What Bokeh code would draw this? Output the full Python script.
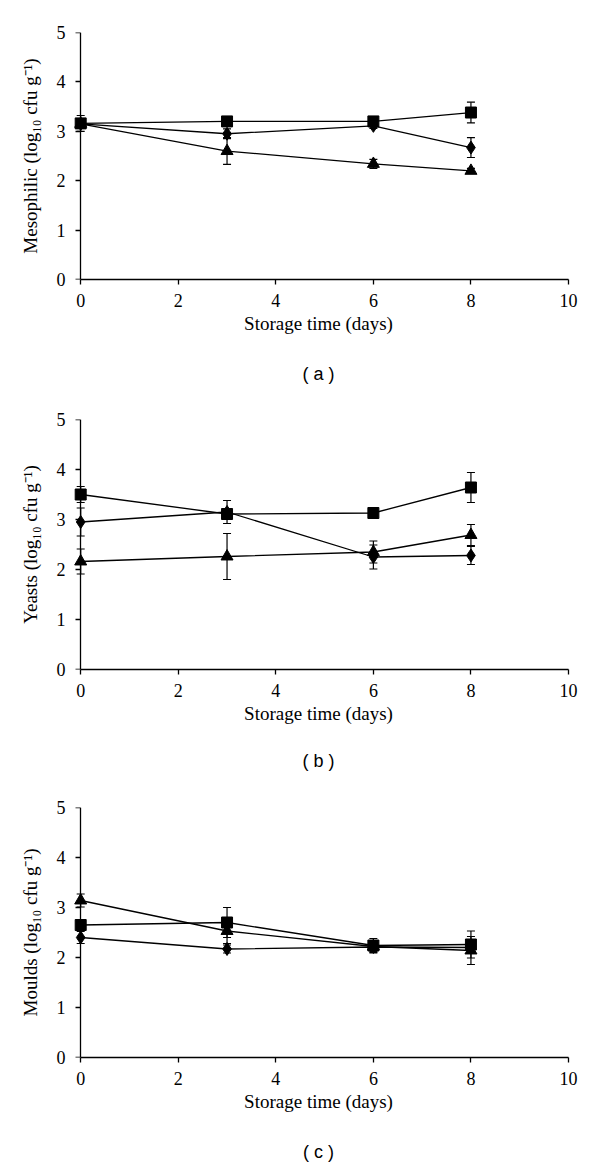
from bokeh.plotting import figure
from bokeh.models import Range1d, ColumnDataSource, Whisker, TeeHead, LinearAxis, FixedTicker
from bokeh.layouts import column
from bokeh.embed import file_html
from bokeh.resources import INLINE

# ---------------- data ----------------
days = [0, 3, 6, 8]
x_ticks = [0, 2, 4, 6, 8, 10]
y_ticks = [0, 1, 2, 3, 4, 5]
x_title = "Storage time (days)"

# (a) Mesophilic
meso_square = [3.16, 3.20, 3.20, 3.38]
meso_square_err = [0.16, 0.10, 0.05, 0.21]
meso_diamond = [3.15, 2.95, 3.11, 2.67]
meso_diamond_err = [0.07, 0.10, 0.05, 0.20]
meso_triangle = [3.15, 2.60, 2.34, 2.20]
meso_triangle_err = [0.07, 0.27, 0.09, 0.05]

# (b) Yeasts
yeast_square = [3.50, 3.11, 3.13, 3.64]
yeast_square_err = [0.16, 0.08, 0.06, 0.30]
yeast_diamond = [2.95, 3.15, 2.25, 2.28]
yeast_diamond_err = [0.28, 0.23, 0.24, 0.18]
yeast_triangle = [2.16, 2.26, 2.35, 2.69]
yeast_triangle_err = [0.25, 0.46, 0.22, 0.21]

# (c) Moulds
mould_square = [2.65, 2.70, 2.24, 2.26]
mould_square_err = [0.05, 0.30, 0.14, 0.27]
mould_diamond = [2.40, 2.17, 2.21, 2.20]
mould_diamond_err = [0.12, 0.08, 0.12, 0.10]
mould_triangle = [3.14, 2.53, 2.22, 2.14]
mould_triangle_err = [0.13, 0.25, 0.10, 0.28]

panels = [
    dict(ylabel="Mesophilic (log\u2081\u2080 cfu g\u207b\u00b9)", tag="( a )",
         series=[(meso_square, meso_square_err, "square"),
                 (meso_diamond, meso_diamond_err, "diamond"),
                 (meso_triangle, meso_triangle_err, "triangle")],
         top=32, fh=247, bottom=108, tag_standoff=27),
    dict(ylabel="Yeasts (log\u2081\u2080 cfu g\u207b\u00b9)", tag="( b )",
         series=[(yeast_square, yeast_square_err, "square"),
                 (yeast_diamond, yeast_diamond_err, "diamond"),
                 (yeast_triangle, yeast_triangle_err, "triangle")],
         top=32, fh=250, bottom=106, tag_standoff=24),
    dict(ylabel="Moulds (log\u2081\u2080 cfu g\u207b\u00b9)", tag="( c )",
         series=[(mould_square, mould_square_err, "square"),
                 (mould_diamond, mould_diamond_err, "diamond"),
                 (mould_triangle, mould_triangle_err, "triangle")],
         top=32, fh=250, bottom=106, tag_standoff=27),
]

SERIF = "Liberation Serif"
marker_size = {"square": 11, "diamond": 13, "triangle": 12}


def style_text(ax):
    ax.major_label_text_font = SERIF
    ax.major_label_text_font_size = "18px"
    ax.major_label_text_color = "black"
    ax.axis_label_text_font = SERIF
    ax.axis_label_text_font_size = "19px"
    ax.axis_label_text_font_style = "normal"
    ax.axis_label_text_color = "black"
    ax.minor_tick_line_color = None


figs = []
for pan in panels:
    p = figure(frame_width=500, frame_height=pan["fh"],
               x_range=Range1d(-0.25, 10), y_range=Range1d(0, 5),
               y_axis_location=None,
               min_border_left=68, min_border_right=24,
               min_border_top=pan["top"], min_border_bottom=pan["bottom"],
               output_backend="svg", toolbar_location=None,
               background_fill_color="white", border_fill_color="white")
    p.outline_line_color = None
    p.xgrid.visible = False
    p.ygrid.visible = False

    # x axis
    xa = p.xaxis[0]
    style_text(xa)
    xa.ticker = x_ticks
    xa.bounds = (0, 10)
    xa.axis_line_color = "black"
    xa.axis_line_width = 1.3
    xa.major_tick_line_color = "black"
    xa.major_tick_line_width = 1.3
    xa.major_tick_out = 5
    xa.major_tick_in = 0
    xa.major_label_standoff = 9
    xa.axis_label = x_title
    xa.axis_label_standoff = 3

    # panel tag as the label of an empty second x axis
    ta = LinearAxis(ticker=FixedTicker(ticks=[]), bounds=(0, 10),
                    axis_label=pan["tag"])
    ta.axis_line_color = None
    ta.major_tick_line_color = None
    ta.minor_tick_line_color = None
    ta.major_tick_out = 0
    ta.major_tick_in = 0
    ta.major_label_text_font_size = "0px"
    ta.major_label_standoff = 0
    ta.axis_label_standoff = pan["tag_standoff"]
    ta.axis_label_text_font = "Liberation Sans"
    ta.axis_label_text_font_size = "18px"
    ta.axis_label_text_font_style = "normal"
    ta.axis_label_text_color = "black"
    p.add_layout(ta, "below")

    # y axis: labels and title (at frame edge)
    ya = LinearAxis(ticker=y_ticks, axis_label=pan["ylabel"])
    style_text(ya)
    ya.axis_line_color = None
    ya.major_tick_line_color = None
    ya.major_tick_out = 0
    ya.major_tick_in = 0
    ya.major_label_standoff = 3
    ya.axis_label_standoff = 13
    p.add_layout(ya, "left")

    # y axis: line and ticks at x = 0
    yl = LinearAxis(ticker=y_ticks, fixed_location=0)
    yl.axis_line_color = "black"
    yl.axis_line_width = 1.3
    yl.major_tick_line_color = "black"
    yl.major_tick_line_width = 1.3
    yl.major_tick_out = 5
    yl.major_tick_in = 0
    yl.minor_tick_line_color = None
    yl.major_label_text_font_size = "0px"
    yl.major_label_text_color = None
    p.add_layout(yl, "left")

    for vals, errs, mk in pan["series"]:
        src = ColumnDataSource(dict(
            x=days, y=vals,
            upper=[v + e for v, e in zip(vals, errs)],
            lower=[v - e for v, e in zip(vals, errs)]))
        p.line("x", "y", source=src, line_color="black", line_width=1.3)
        w = Whisker(source=src, base="x", upper="upper", lower="lower",
                    dimension="height", line_color="black", line_width=1.2,
                    upper_head=TeeHead(size=8, line_color="black", line_width=1.2),
                    lower_head=TeeHead(size=8, line_color="black", line_width=1.2))
        p.add_layout(w)
        p.scatter("x", "y", source=src, marker=mk, size=marker_size[mk],
                  fill_color="black", line_color="black")

    figs.append(p)

layout = column(*figs, spacing=0)
open("out.html", "w").write(file_html(layout, INLINE))
